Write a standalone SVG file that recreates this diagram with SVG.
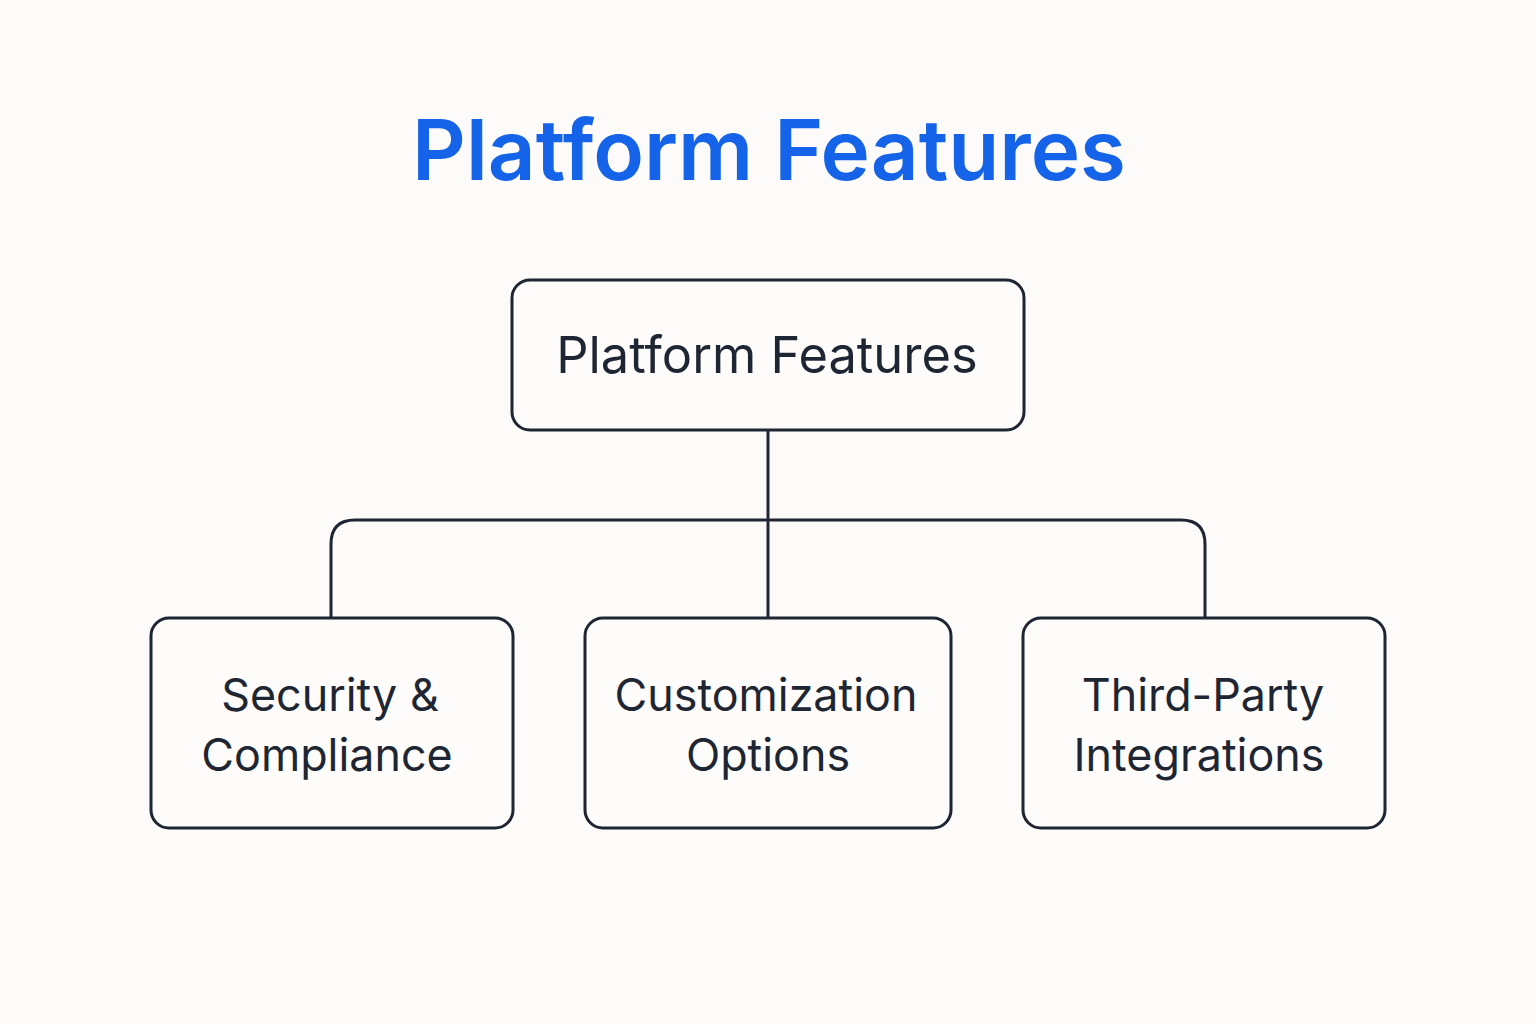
<svg xmlns="http://www.w3.org/2000/svg" width="1536" height="1024" viewBox="0 0 1536 1024">
<style>
.bg{fill:#fcfbf9}
.box{fill:#fdfcfa;stroke:#1e2533;stroke-width:3}
.conn{fill:none;stroke:#1e2533;stroke-width:3}
.lbl{font-family:Inter,"Noto Sans",sans-serif;font-size:44.8px;fill:#1e2533;text-anchor:middle}
.title{font-family:Inter,"Noto Sans",sans-serif;font-size:83.5px;font-weight:600;fill:#1463e8;text-anchor:middle}
</style>
<rect class="bg" width="1536" height="1024"/>
<text class="title" x="769" y="180">Platform Features</text>
<g id="connectors">
<path class="conn" d="M768 430 V618"/>
<path class="conn" d="M331 618 V544 Q331 520 355 520 H1181 Q1205 520 1205 544 V618"/>
</g>
<g id="root">
<rect class="box" x="512" y="280" width="512" height="150" rx="18"/>
<text class="lbl" x="767" y="373" style="font-size:50.6px">Platform Features</text>
</g>
<g id="security">
<rect class="box" x="151" y="618" width="362" height="210" rx="18"/>
<text class="lbl" x="330" y="711">Security &amp;</text>
<text class="lbl" x="327" y="771">Compliance</text>
</g>
<g id="customization">
<rect class="box" x="585" y="618" width="366" height="210" rx="18"/>
<text class="lbl" x="766" y="711">Customization</text>
<text class="lbl" x="768" y="771">Options</text>
</g>
<g id="thirdparty">
<rect class="box" x="1023" y="618" width="362" height="210" rx="18"/>
<text class="lbl" x="1203" y="711">Third-Party</text>
<text class="lbl" x="1199" y="771">Integrations</text>
</g>
</svg>
